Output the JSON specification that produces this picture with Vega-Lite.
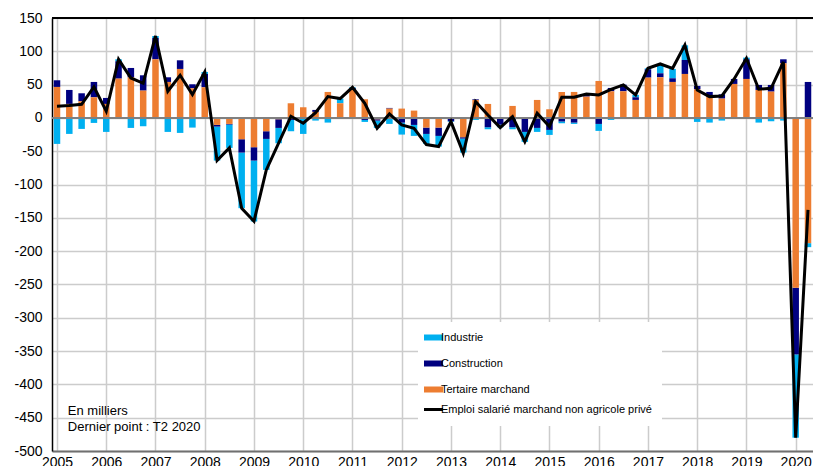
{
  "$schema": "https://vega.github.io/schema/vega-lite/v6.json",
  "width": 761,
  "height": 433,
  "autosize": {"type": "none"},
  "padding": {"left": 52, "top": 18, "right": 0, "bottom": 15},
  "background": "white",
  "config": {
    "font": "Liberation Sans",
    "view": {"stroke": null},
    "axis": {"labelFont": "Liberation Sans", "labelColor": "#000000", "labelFontSize": 14, "gridColor": "#cccccc", "gridWidth": 1.5, "ticks": false, "title": null, "labelOverlap": false},
    "legend": {"orient": "none", "legendX": 366, "legendY": 304, "fillColor": "white", "padding": 10, "symbolType": "stroke", "symbolSize": 361, "symbolStrokeWidth": 5, "labelFontSize": 11, "labelFont": "Liberation Sans", "labelColor": "#000000", "rowPadding": 1, "labelOffset": 2, "labelLimit": 0, "title": null}
  },
  "datasets": {
    "emploi": [
      {"t": 2005.00, "Industrie": -39, "Construction": 10, "Tertaire marchand": 46.5, "Emploi": 17.5},
      {"t": 2005.25, "Industrie": -24, "Construction": 21, "Tertaire marchand": 21, "Emploi": 18.5},
      {"t": 2005.50, "Industrie": -16.5, "Construction": 12, "Tertaire marchand": 25, "Emploi": 20.5},
      {"t": 2005.75, "Industrie": -7.5, "Construction": 23, "Tertaire marchand": 31, "Emploi": 46.5},
      {"t": 2006.00, "Industrie": -21, "Construction": 9, "Tertaire marchand": 21, "Emploi": 10},
      {"t": 2006.25, "Industrie": 3, "Construction": 26, "Tertaire marchand": 59, "Emploi": 88},
      {"t": 2006.50, "Industrie": -15, "Construction": 14, "Tertaire marchand": 61, "Emploi": 60},
      {"t": 2006.75, "Industrie": -12.5, "Construction": 23, "Tertaire marchand": 41, "Emploi": 52},
      {"t": 2007.00, "Industrie": 3, "Construction": 32, "Tertaire marchand": 88, "Emploi": 123},
      {"t": 2007.25, "Industrie": -21, "Construction": 7, "Tertaire marchand": 54, "Emploi": 40},
      {"t": 2007.50, "Industrie": -22.5, "Construction": 13, "Tertaire marchand": 73.5, "Emploi": 64},
      {"t": 2007.75, "Industrie": -14.5, "Construction": 6, "Tertaire marchand": 44.5, "Emploi": 35},
      {"t": 2008.00, "Industrie": 3, "Construction": 20, "Tertaire marchand": 46, "Emploi": 69},
      {"t": 2008.25, "Industrie": -51, "Construction": -2.5, "Tertaire marchand": -10.5, "Emploi": -64},
      {"t": 2008.50, "Industrie": -35, "Construction": -1, "Tertaire marchand": -9, "Emploi": -45},
      {"t": 2008.75, "Industrie": -83.5, "Construction": -20, "Tertaire marchand": -32, "Emploi": -135.5},
      {"t": 2009.00, "Industrie": -91.5, "Construction": -20, "Tertaire marchand": -44, "Emploi": -155},
      {"t": 2009.25, "Industrie": -46.5, "Construction": -11.5, "Tertaire marchand": -20, "Emploi": -78},
      {"t": 2009.50, "Industrie": -23, "Construction": -13, "Tertaire marchand": -2, "Emploi": -38},
      {"t": 2009.75, "Industrie": -17, "Construction": -3, "Tertaire marchand": 22, "Emploi": 2.5},
      {"t": 2010.00, "Industrie": -24, "Construction": 0, "Tertaire marchand": 16, "Emploi": -8},
      {"t": 2010.25, "Industrie": -4, "Construction": 3, "Tertaire marchand": 9, "Emploi": 8},
      {"t": 2010.50, "Industrie": -7, "Construction": 0, "Tertaire marchand": 39, "Emploi": 32},
      {"t": 2010.75, "Industrie": 7, "Construction": -1, "Tertaire marchand": 22, "Emploi": 29},
      {"t": 2011.00, "Industrie": 1, "Construction": 3, "Tertaire marchand": 42, "Emploi": 46},
      {"t": 2011.25, "Industrie": -3, "Construction": -3, "Tertaire marchand": 28, "Emploi": 22},
      {"t": 2011.50, "Industrie": -11, "Construction": -2, "Tertaire marchand": -2, "Emploi": -15.5},
      {"t": 2011.75, "Industrie": -9, "Construction": 1, "Tertaire marchand": 14, "Emploi": 6},
      {"t": 2012.00, "Industrie": -18, "Construction": -7, "Tertaire marchand": 14, "Emploi": -10.5},
      {"t": 2012.25, "Industrie": -16.5, "Construction": -10.5, "Tertaire marchand": 11, "Emploi": -15.5},
      {"t": 2012.50, "Industrie": -15, "Construction": -9.5, "Tertaire marchand": -14.5, "Emploi": -40},
      {"t": 2012.75, "Industrie": -16, "Construction": -12.5, "Tertaire marchand": -14.5, "Emploi": -43},
      {"t": 2013.00, "Industrie": -1, "Construction": -5, "Tertaire marchand": 0, "Emploi": -5.5},
      {"t": 2013.25, "Industrie": -21, "Construction": -2, "Tertaire marchand": -29, "Emploi": -53},
      {"t": 2013.50, "Industrie": -3, "Construction": 1, "Tertaire marchand": 27, "Emploi": 24.5},
      {"t": 2013.75, "Industrie": -3, "Construction": -14, "Tertaire marchand": 21, "Emploi": 4.5},
      {"t": 2014.00, "Industrie": -4, "Construction": -9, "Tertaire marchand": -1, "Emploi": -14.5},
      {"t": 2014.25, "Industrie": -3, "Construction": -14, "Tertaire marchand": 18, "Emploi": 2},
      {"t": 2014.50, "Industrie": -15, "Construction": -21, "Tertaire marchand": 0, "Emploi": -35.5},
      {"t": 2014.75, "Industrie": -6, "Construction": -15, "Tertaire marchand": 27, "Emploi": 7},
      {"t": 2015.00, "Industrie": -7.5, "Construction": -18, "Tertaire marchand": 13, "Emploi": -13},
      {"t": 2015.25, "Industrie": -2.5, "Construction": -5.5, "Tertaire marchand": 39, "Emploi": 31},
      {"t": 2015.50, "Industrie": -2, "Construction": -7, "Tertaire marchand": 39, "Emploi": 31},
      {"t": 2015.75, "Industrie": 0.5, "Construction": 3.5, "Tertaire marchand": 32, "Emploi": 36},
      {"t": 2016.00, "Industrie": -10.5, "Construction": -9, "Tertaire marchand": 55.5, "Emploi": 34.5},
      {"t": 2016.25, "Industrie": -3, "Construction": 5, "Tertaire marchand": 40, "Emploi": 43},
      {"t": 2016.50, "Industrie": 0, "Construction": 10, "Tertaire marchand": 40, "Emploi": 49.5},
      {"t": 2016.75, "Industrie": 3.5, "Construction": 4, "Tertaire marchand": 27, "Emploi": 34.5},
      {"t": 2017.00, "Industrie": 1.5, "Construction": 12.5, "Tertaire marchand": 60.5, "Emploi": 74.5},
      {"t": 2017.25, "Industrie": 13, "Construction": 6, "Tertaire marchand": 61, "Emploi": 81},
      {"t": 2017.50, "Industrie": 14, "Construction": 5.5, "Tertaire marchand": 54, "Emploi": 74.5},
      {"t": 2017.75, "Industrie": 22, "Construction": 21, "Tertaire marchand": 66, "Emploi": 109.5},
      {"t": 2018.00, "Industrie": -6, "Construction": 5, "Tertaire marchand": 43, "Emploi": 42},
      {"t": 2018.25, "Industrie": -7, "Construction": 7, "Tertaire marchand": 32, "Emploi": 32},
      {"t": 2018.50, "Industrie": -4, "Construction": 6.5, "Tertaire marchand": 29, "Emploi": 33},
      {"t": 2018.75, "Industrie": 0, "Construction": 7.5, "Tertaire marchand": 51, "Emploi": 58.5},
      {"t": 2019.00, "Industrie": 2.5, "Construction": 29.5, "Tertaire marchand": 58.5, "Emploi": 89.5},
      {"t": 2019.25, "Industrie": -7, "Construction": 7.5, "Tertaire marchand": 42, "Emploi": 43},
      {"t": 2019.50, "Industrie": -5, "Construction": 10, "Tertaire marchand": 39.5, "Emploi": 44.5},
      {"t": 2019.75, "Industrie": -4, "Construction": 6, "Tertaire marchand": 82, "Emploi": 84},
      {"t": 2020.00, "Industrie": -125, "Construction": -100, "Tertaire marchand": -255, "Emploi": -480},
      {"t": 2020.25, "Industrie": -6, "Construction": 54, "Tertaire marchand": -188, "Emploi": -138}
    ],
    "ordre": [
      {"serie": "Tertaire marchand", "rang": 1},
      {"serie": "Construction", "rang": 2},
      {"serie": "Industrie", "rang": 3}
    ],
    "notes": [
      {"texte": ["En milliers", "Dernier point : T2 2020"]}
    ]
  },
  "layer": [
    {
      "data": {"name": "emploi"},
      "transform": [
        {"fold": ["Industrie", "Construction", "Tertaire marchand"], "as": ["serie", "valeur"]},
        {"lookup": "serie", "from": {"data": {"name": "ordre"}, "key": "serie", "fields": ["rang"]}}
      ],
      "mark": {"type": "bar", "size": 6.5, "clip": true},
      "encoding": {
        "x": {
          "field": "t", "type": "quantitative",
          "scale": {"domain": [2005, 2020.25], "nice": false, "zero": false},
          "axis": {"values": [2005, 2006, 2007, 2008, 2009, 2010, 2011, 2012, 2013, 2014, 2015, 2016, 2017, 2018, 2019, 2020], "format": "d", "grid": true, "domainColor": "#707070", "domainWidth": 2, "labelPadding": 4, "labelFlush": false, "labelOverlap": false}
        },
        "y": {
          "field": "valeur", "type": "quantitative", "stack": "zero",
          "scale": {"domain": [-500, 150], "nice": false},
          "axis": {"values": [-500, -450, -400, -350, -300, -250, -200, -150, -100, -50, 0, 50, 100, 150], "labelExpr": "'' + datum.value", "grid": true, "domainColor": "#000000", "domainWidth": 1.5, "labelPadding": 10, "labelOverlap": false}
        },
        "color": {
          "field": "serie", "type": "nominal",
          "scale": {"domain": ["Industrie", "Construction", "Tertaire marchand", "Emploi salarié marchand non agricole privé"], "range": ["#00B0F0", "#000080", "#ED7D31", "#000000"]},
          "legend": {
            "encode": {
              "symbols": {
                "update": {
                  "stroke": {"scale": "color", "field": "value"},
                  "strokeWidth": {"signal": "datum.value === 'Emploi salarié marchand non agricole privé' ? 3 : 6"}
                }
              }
            }
          }
        },
        "order": {"field": "rang", "sort": "ascending"}
      }
    },
    {
      "data": {"name": "emploi"},
      "mark": {"type": "rule", "color": "#808080", "strokeWidth": 2},
      "encoding": {
        "y": {"datum": 0, "type": "quantitative", "axis": {"values": [-500, -450, -400, -350, -300, -250, -200, -150, -100, -50, 0, 50, 100, 150], "labelExpr": "'' + datum.value", "grid": true, "domainColor": "#000000", "domainWidth": 1.5, "labelPadding": 10, "labelOverlap": false}}
      }
    },
    {
      "data": {"name": "emploi"},
      "mark": {"type": "line", "strokeWidth": 3, "clip": true},
      "encoding": {
        "x": {"field": "t", "type": "quantitative", "axis": {"values": [2005, 2006, 2007, 2008, 2009, 2010, 2011, 2012, 2013, 2014, 2015, 2016, 2017, 2018, 2019, 2020], "format": "d", "grid": true, "domainColor": "#707070", "domainWidth": 2, "labelPadding": 4, "labelFlush": false, "labelOverlap": false}},
        "y": {"field": "Emploi", "type": "quantitative", "axis": {"values": [-500, -450, -400, -350, -300, -250, -200, -150, -100, -50, 0, 50, 100, 150], "labelExpr": "'' + datum.value", "grid": true, "domainColor": "#000000", "domainWidth": 1.5, "labelPadding": 10, "labelOverlap": false}},
        "color": {"datum": "Emploi salarié marchand non agricole privé"}
      }
    },
    {
      "data": {"name": "emploi"},
      "mark": {"type": "rule", "color": "#000000", "strokeWidth": 1.5},
      "encoding": {
        "y": {"datum": 150, "type": "quantitative", "axis": {"values": [-500, -450, -400, -350, -300, -250, -200, -150, -100, -50, 0, 50, 100, 150], "labelExpr": "'' + datum.value", "grid": true, "domainColor": "#000000", "domainWidth": 1.5, "labelPadding": 10, "labelOverlap": false}}
      }
    },
    {
      "data": {"name": "notes"},
      "mark": {"type": "text", "align": "left", "baseline": "alphabetic", "fontSize": 13, "lineHeight": 16, "color": "#000000"},
      "encoding": {
        "x": {"datum": 2005.22, "type": "quantitative", "axis": {"values": [2005, 2006, 2007, 2008, 2009, 2010, 2011, 2012, 2013, 2014, 2015, 2016, 2017, 2018, 2019, 2020], "format": "d", "grid": true, "domainColor": "#707070", "domainWidth": 2, "labelPadding": 4, "labelFlush": false, "labelOverlap": false}},
        "y": {"datum": -445.5, "type": "quantitative", "axis": {"values": [-500, -450, -400, -350, -300, -250, -200, -150, -100, -50, 0, 50, 100, 150], "labelExpr": "'' + datum.value", "grid": true, "domainColor": "#000000", "domainWidth": 1.5, "labelPadding": 10, "labelOverlap": false}},
        "text": {"field": "texte"}
      }
    }
  ]
}
